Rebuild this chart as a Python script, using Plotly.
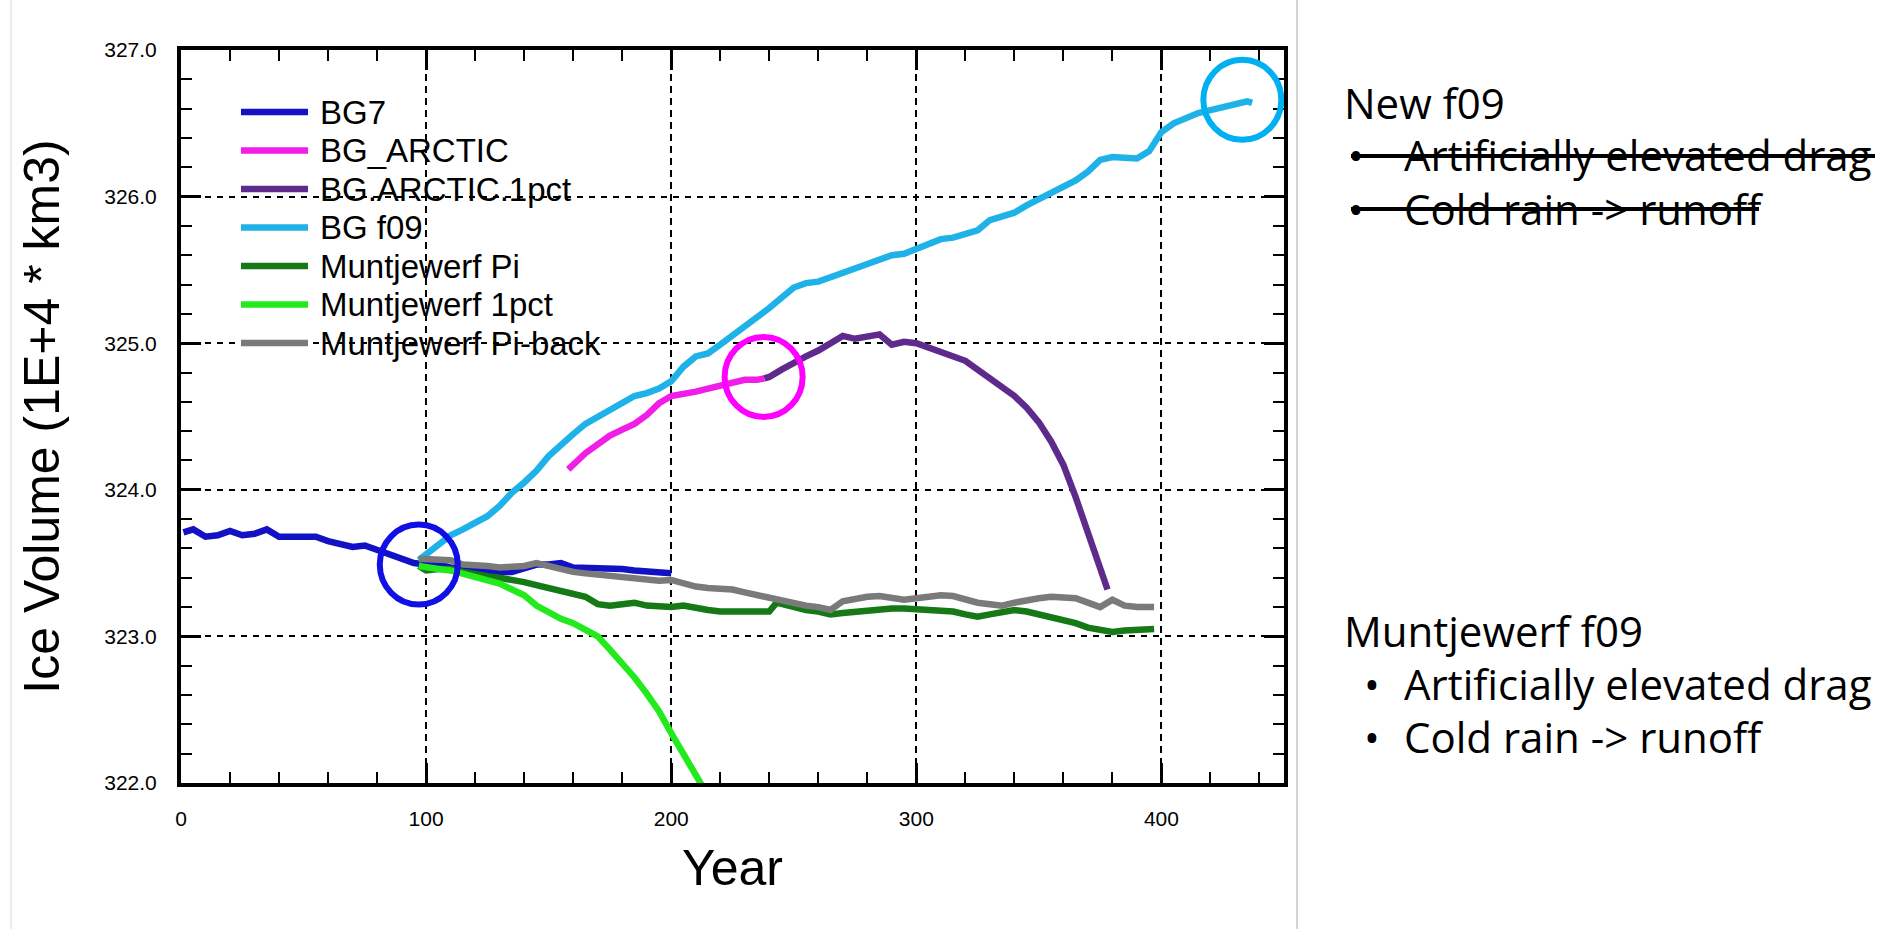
import plotly.graph_objects as go

# ---------------- data: ice volume (1E+4 km3) per model year ----------------
bg7_year = [1, 5, 10, 15, 20, 25, 30, 35, 40, 45, 50, 55, 60, 65, 70, 75, 80, 85, 90, 95,
            100, 105, 110, 115, 120, 125, 130, 135, 140, 145, 150, 155, 160, 165, 170, 175,
            180, 185, 190, 195, 200]
bg7_vol = [323.71, 323.73, 323.68, 323.69, 323.72, 323.69, 323.70, 323.73, 323.68, 323.68,
           323.68, 323.68, 323.65, 323.63, 323.61, 323.62, 323.59, 323.57, 323.54, 323.50,
           323.49, 323.49, 323.47, 323.46, 323.45, 323.45, 323.44, 323.44, 323.46, 323.49,
           323.49, 323.50, 323.47, 323.47, 323.46, 323.46, 323.46, 323.45, 323.44, 323.44,
           323.43]

arctic_year = [158, 160, 165, 170, 175, 180, 185, 190, 195, 200, 205, 210, 215, 220, 225,
               230, 235, 238]
arctic_vol = [324.14, 324.17, 324.25, 324.31, 324.37, 324.41, 324.45, 324.51, 324.59, 324.64,
              324.65, 324.67, 324.69, 324.71, 324.74, 324.75, 324.75, 324.76]

arctic1pct_year = [238, 240, 245, 250, 255, 260, 265, 270, 275, 280, 285, 290, 295, 300, 305,
                   310, 315, 320, 325, 330, 335, 340, 345, 350, 355, 360, 365, 370, 375, 378]
arctic1pct_vol = [324.76, 324.77, 324.82, 324.87, 324.91, 324.95, 325.00, 325.05, 325.03,
                  325.04, 325.06, 324.99, 325.01, 325.00, 324.97, 324.94, 324.90, 324.88,
                  324.82, 324.76, 324.71, 324.64, 324.56, 324.46, 324.33, 324.17, 323.95,
                  323.71, 323.48, 323.32]

f09_year = [97, 100, 105, 110, 115, 120, 125, 130, 135, 140, 145, 150, 155, 160, 165, 170,
            175, 180, 185, 190, 195, 200, 205, 210, 215, 220, 225, 230, 235, 240, 245, 250,
            255, 260, 265, 270, 275, 280, 285, 290, 295, 300, 305, 310, 315, 320, 325, 330,
            335, 340, 345, 350, 355, 360, 365, 370, 375, 380, 385, 390, 395, 400, 405, 410,
            415, 420, 425, 430, 435, 437]
f09_vol = [323.52, 323.56, 323.63, 323.69, 323.73, 323.77, 323.82, 323.89, 323.98, 324.05,
           324.13, 324.23, 324.31, 324.38, 324.45, 324.50, 324.54, 324.60, 324.64, 324.66,
           324.69, 324.74, 324.84, 324.91, 324.93, 324.99, 325.05, 325.12, 325.18, 325.24,
           325.31, 325.38, 325.41, 325.42, 325.45, 325.48, 325.50, 325.53, 325.56, 325.60,
           325.61, 325.64, 325.68, 325.71, 325.72, 325.74, 325.77, 325.84, 325.87, 325.89,
           325.94, 325.98, 326.02, 326.06, 326.11, 326.17, 326.25, 326.27, 326.27, 326.26,
           326.31, 326.44, 326.50, 326.54, 326.57, 326.59, 326.61, 326.64, 326.65, 326.64]

mpi_year = [97, 100, 105, 110, 115, 120, 125, 130, 135, 140, 145, 150, 155, 160, 165, 170,
            175, 180, 185, 190, 195, 200, 205, 210, 215, 220, 225, 230, 235, 240, 243, 245,
            250, 255, 260, 265, 270, 275, 280, 285, 290, 295, 300, 305, 310, 315, 320, 325,
            330, 335, 340, 345, 350, 355, 360, 365, 370, 375, 380, 385, 390, 397]
mpi_vol = [323.48, 323.45, 323.46, 323.46, 323.44, 323.42, 323.41, 323.40, 323.39, 323.37,
           323.35, 323.33, 323.31, 323.29, 323.27, 323.22, 323.21, 323.22, 323.23, 323.21,
           323.20, 323.20, 323.21, 323.19, 323.18, 323.17, 323.17, 323.17, 323.17, 323.17,
           323.23, 323.22, 323.20, 323.18, 323.17, 323.15, 323.16, 323.17, 323.18, 323.18,
           323.19, 323.19, 323.185, 323.185, 323.18, 323.17, 323.15, 323.135, 323.15, 323.17,
           323.18, 323.17, 323.15, 323.14, 323.12, 323.09, 323.06, 323.05, 323.03, 323.04,
           323.04, 323.05]

m1pct_year = [97, 100, 105, 110, 115, 120, 125, 130, 135, 140, 145, 150, 155, 160, 165, 170,
              175, 180, 185, 190, 195, 200, 205, 210, 213]
m1pct_vol = [323.48, 323.47, 323.46, 323.45, 323.43, 323.40, 323.38, 323.36, 323.32, 323.28,
             323.21, 323.16, 323.12, 323.09, 323.05, 323.00, 322.91, 322.82, 322.72, 322.61,
             322.49, 322.34, 322.19, 322.05, 321.97]

piback_year = [97, 100, 105, 110, 115, 120, 125, 130, 135, 140, 145, 150, 155, 160, 165, 170,
               175, 180, 185, 190, 195, 200, 205, 210, 215, 220, 225, 230, 235, 240, 245, 250,
               255, 260, 265, 270, 275, 280, 285, 290, 295, 300, 305, 310, 315, 320, 325, 330,
               335, 340, 345, 350, 355, 360, 365, 370, 375, 380, 385, 390, 397]
piback_vol = [323.53, 323.53, 323.53, 323.52, 323.49, 323.49, 323.48, 323.47, 323.47, 323.48,
              323.50, 323.48, 323.45, 323.44, 323.43, 323.42, 323.41, 323.40, 323.40, 323.39,
              323.38, 323.385, 323.36, 323.34, 323.33, 323.33, 323.32, 323.30, 323.28, 323.26,
              323.25, 323.22, 323.21, 323.20, 323.18, 323.24, 323.26, 323.27, 323.275, 323.26,
              323.25, 323.26, 323.27, 323.28, 323.275, 323.25, 323.23, 323.22, 323.21, 323.23,
              323.25, 323.26, 323.27, 323.27, 323.26, 323.23, 323.20, 323.25, 323.21, 323.20,
              323.20]

series_names = ["BG7", "BG_ARCTIC", "BG.ARCTIC.1pct", "BG f09",
                "Muntjewerf Pi", "Muntjewerf 1pct", "Muntjewerf Pi-back"]
series_colors = ["#1212C4", "#F01EE6", "#5E2A8C", "#1EB2E8",
                 "#157A15", "#22EA1C", "#7A7A7A"]
series_x = [bg7_year, arctic_year, arctic1pct_year, f09_year, mpi_year, m1pct_year, piback_year]
series_y = [bg7_vol, arctic_vol, arctic1pct_vol, f09_vol, mpi_vol, m1pct_vol, piback_vol]

# highlighted points (year, volume, colour)
marks = [(97, 323.49, "#1010E6"), (237.7, 324.77, "#FF00FF"), (433, 326.66, "#00B0F0")]

# right-hand notes
note_blocks = [
    ("New f09", ["Artificially elevated drag", "Cold rain -> runoff"], True),
    ("Muntjewerf f09", ["Artificially elevated drag", "Cold rain -> runoff"], False),
]

# ---------------- layout geometry (pixels) ----------------
W_FIG, H_FIG = 1896, 929
L, T, PW, PH = 181, 50, 1103, 733


def px_x(px):
    return (px - L) / PW


def px_y(py):
    return (T + PH - py) / PH


fig = go.Figure()
for name, col, xs, ys in zip(series_names, series_colors, series_x, series_y):
    assert len(xs) == len(ys), name
    fig.add_trace(go.Scatter(x=xs, y=ys, mode="lines", name=name, showlegend=False,
                             line=dict(color=col, width=6.5)))

shapes = []
annotations = []

# circles around the branch points
for yr, vol, col in marks:
    shapes.append(dict(type="circle", xref="x", yref="y", xsizemode="pixel",
                       ysizemode="pixel", xanchor=yr, yanchor=vol,
                       x0=-39, x1=39, y0=-40, y1=40,
                       line=dict(color=col, width=6)))

# in-plot legend
leg_y0, leg_dy = 112, 38.5
for i, (name, col) in enumerate(zip(series_names, series_colors)):
    yc = leg_y0 + i * leg_dy
    shapes.append(dict(type="line", xref="paper", yref="paper",
                       x0=px_x(241), x1=px_x(308), y0=px_y(yc), y1=px_y(yc),
                       line=dict(color=col, width=6.5)))
    annotations.append(dict(text=name, xref="paper", yref="paper", x=px_x(318),
                            y=px_y(yc), xanchor="left", yanchor="middle", showarrow=False,
                            font=dict(family="Liberation Sans", size=33, color="black")))

# slide separator lines
shapes.append(dict(type="line", xref="paper", yref="paper", x0=px_x(1297), x1=px_x(1297),
                   y0=px_y(0), y1=px_y(H_FIG), line=dict(color="#D4D4D4", width=2)))
shapes.append(dict(type="line", xref="paper", yref="paper", x0=px_x(11), x1=px_x(11),
                   y0=px_y(0), y1=px_y(H_FIG), line=dict(color="#E6E6E6", width=1.5)))

# notes on the right
note_font = dict(family="Open Sans", size=42, color="black")
block_tops = [102, 630]
item_dy = 53
bullet_x = [1356, 1372]
strike_end = [1875, 1759]
for b, (title, items, struck) in enumerate(note_blocks):
    y0 = block_tops[b]
    annotations.append(dict(text=title, xref="paper", yref="paper", x=px_x(1342),
                            y=px_y(y0), xanchor="left", yanchor="middle",
                            showarrow=False, font=note_font))
    for k, item in enumerate(items):
        yc = y0 + (k + 1) * item_dy
        annotations.append(dict(text="\u2022", xref="paper", yref="paper",
                                x=px_x(bullet_x[b]), y=px_y(yc), xanchor="center",
                                yanchor="middle", showarrow=False, font=note_font))
        annotations.append(dict(text=item, xref="paper", yref="paper", x=px_x(1402),
                                y=px_y(yc), xanchor="left", yanchor="middle",
                                showarrow=False, font=note_font))
        if struck:
            shapes.append(dict(type="line", xref="paper", yref="paper",
                               x0=px_x(1351), x1=px_x(strike_end[k]),
                               y0=px_y(yc + 1), y1=px_y(yc + 1),
                               line=dict(color="black", width=4)))

tick_font = dict(family="Liberation Sans", size=21, color="black")
title_font = dict(family="Liberation Sans", size=50, color="black")

fig.update_layout(
    width=W_FIG, height=H_FIG,
    margin=dict(l=L, r=W_FIG - L - PW, t=T, b=H_FIG - T - PH, pad=0),
    paper_bgcolor="white", plot_bgcolor="white",
    showlegend=False,
    shapes=shapes, annotations=annotations,
    xaxis=dict(
        range=[0, 450], tickmode="linear", tick0=0, dtick=100,
        ticks="inside", ticklen=20, tickwidth=3, tickcolor="black",
        showline=True, linewidth=4, linecolor="black", mirror="ticks",
        showgrid=True, gridcolor="black", gridwidth=1.6, griddash="7px,5px",
        zeroline=False, tickfont=tick_font, ticklabelstandoff=14,
        minor=dict(dtick=20, ticks="inside", ticklen=11, tickwidth=2,
                   tickcolor="black", showgrid=False),
        title=dict(text="Year", font=title_font, standoff=22),
    ),
    yaxis=dict(
        range=[322, 327], tickmode="linear", tick0=322, dtick=1, tickformat=".1f",
        ticks="inside", ticklen=20, tickwidth=3, tickcolor="black",
        showline=True, linewidth=4, linecolor="black", mirror="ticks",
        showgrid=True, gridcolor="black", gridwidth=1.6, griddash="6px,6px",
        zeroline=False, tickfont=tick_font, ticklabelstandoff=16,
        minor=dict(dtick=0.2, ticks="inside", ticklen=11, tickwidth=2,
                   tickcolor="black", showgrid=False),
        title=dict(text="Ice Volume (1E+4 * km3)", font=title_font, standoff=30),
    ),
)

fig.write_html("out.html", config={"displayModeBar": False})
